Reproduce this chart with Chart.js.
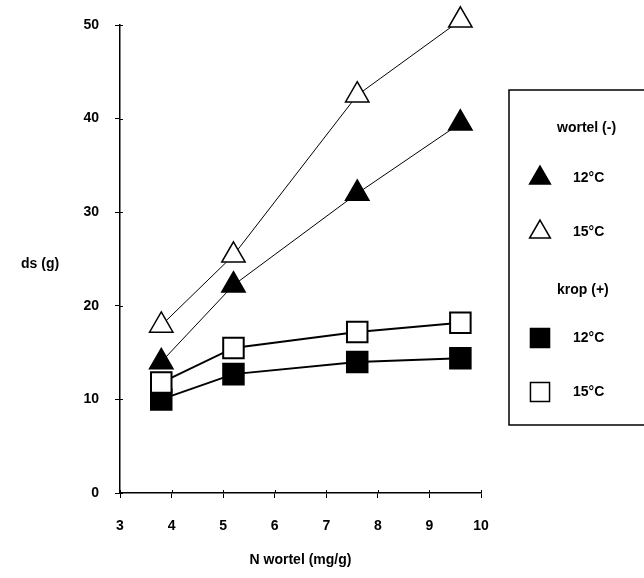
<!DOCTYPE html>
<html>
<head>
<meta charset="utf-8">
<script src="https://cdn.jsdelivr.net/npm/chart.js@4.4.1/dist/chart.umd.min.js"></script>
<style>
  html, body { margin: 0; padding: 0; background: #fff; }
  #wrap { position: relative; width: 644px; height: 578px; }
</style>
</head>
<body>
<div id="wrap"><canvas id="chart" width="644" height="578"></canvas></div>
<script>
// N in root (mg/g) and dry matter (g)
const nWortel = [3.8, 5.2, 7.6, 9.6];
const wortel12 = [14, 22.2, 32, 39.5];
const wortel15 = [17.9, 25.4, 42.5, 50.5];
const krop12 = [10, 12.7, 14, 14.4];
const krop15 = [11.8, 15.5, 17.2, 18.2];

const xTicks = [3, 4, 5, 6, 7, 8, 9, 10];
const yTicks = [0, 10, 20, 30, 40, 50];

const FONT = '"Liberation Sans", Arial, sans-serif';

function toPoints(ys) {
    return nWortel.map((x, i) => ({ x: x, y: ys[i] }));
}

// legend box, horizontal y title and the inner half of the tick marks
const extras = {
    id: 'extras',
    afterDraw(chart) {
        const ctx = chart.ctx;
        const xs = chart.scales.x, ys = chart.scales.y;
        const area = chart.chartArea;
        ctx.save();
        ctx.strokeStyle = '#000';
        ctx.lineWidth = 1;
        ctx.beginPath();
        xTicks.forEach(v => {
            const px = Math.round(xs.getPixelForValue(v)) + 0.5;
            ctx.moveTo(px, area.bottom);
            ctx.lineTo(px, area.bottom - 3);
        });
        yTicks.forEach(v => {
            const py = Math.round(ys.getPixelForValue(v)) + 0.5;
            ctx.moveTo(area.left, py);
            ctx.lineTo(area.left + 3, py);
        });
        ctx.stroke();

        ctx.fillStyle = '#000';
        ctx.font = 'bold 14px ' + FONT;
        ctx.textAlign = 'left';
        ctx.textBaseline = 'middle';
        ctx.fillText('ds (g)', 21, 264);

        // legend frame (runs off the right edge)
        ctx.lineWidth = 1.5;
        ctx.beginPath();
        ctx.moveTo(660, 90);
        ctx.lineTo(509, 90);
        ctx.lineTo(509, 425);
        ctx.lineTo(660, 425);
        ctx.stroke();

        const items = [
            { text: 'wortel (-)', y: 128, head: true },
            { text: '12°C', y: 178, style: 'triangle', fill: '#000', r: 12 },
            { text: '15°C', y: 232, style: 'triangle', fill: '#fff', r: 12 },
            { text: 'krop (+)', y: 290, head: true },
            { text: '12°C', y: 338, style: 'rect', fill: '#000', r: 13.5 },
            { text: '15°C', y: 392, style: 'rect', fill: '#fff', r: 13.5 }
        ];
        items.forEach(it => {
            ctx.fillStyle = '#000';
            if (it.head) {
                ctx.fillText(it.text, 557, it.y);
                return;
            }
            ctx.fillText(it.text, 573, it.y);
            ctx.fillStyle = it.fill;
            ctx.strokeStyle = '#000';
            ctx.lineWidth = 1.5;
            Chart.helpers.drawPoint(ctx, {
                pointStyle: it.style, radius: it.r, rotation: 0, borderWidth: 1.5
            }, 540, it.y);
        });
        ctx.restore();
    }
};

new Chart(document.getElementById('chart'), {
    type: 'scatter',
    data: {
        datasets: [
            {
                label: 'krop 15°C',
                data: toPoints(krop15),
                showLine: true,
                borderColor: '#000',
                borderWidth: 2,
                pointStyle: 'rect',
                pointRadius: 14.5,
                pointBackgroundColor: '#fff',
                pointBorderColor: '#000',
                pointBorderWidth: 2,
                clip: false,
                order: 0
            },
            {
                label: 'wortel 12°C',
                data: toPoints(wortel12),
                showLine: true,
                borderColor: '#000',
                borderWidth: 1,
                pointStyle: 'triangle',
                pointRadius: 13.5,
                pointBackgroundColor: '#000',
                pointBorderColor: '#000',
                pointBorderWidth: 1.5,
                clip: false,
                order: 1
            },
            {
                label: 'krop 12°C',
                data: toPoints(krop12),
                showLine: true,
                borderColor: '#000',
                borderWidth: 2,
                pointStyle: 'rect',
                pointRadius: 14.5,
                pointBackgroundColor: '#000',
                pointBorderColor: '#000',
                pointBorderWidth: 2,
                clip: false,
                order: 2
            },
            {
                label: 'wortel 15°C',
                data: toPoints(wortel15),
                showLine: true,
                borderColor: '#000',
                borderWidth: 1,
                pointStyle: 'triangle',
                pointRadius: 13.5,
                pointBackgroundColor: '#fff',
                pointBorderColor: '#000',
                pointBorderWidth: 1.5,
                clip: false,
                order: 3
            }
        ]
    },
    options: {
        responsive: false,
        animation: false,
        events: [],
        layout: { padding: { top: 25, right: 163, left: 0, bottom: 0 } },
        plugins: {
            legend: { display: false },
            tooltip: { enabled: false }
        },
        scales: {
            x: {
                type: 'linear',
                min: xTicks[0],
                max: xTicks[xTicks.length - 1],
                afterFit: scale => { scale.height = 85; },
                afterBuildTicks: scale => { scale.ticks = xTicks.map(v => ({ value: v })); },
                grid: { drawOnChartArea: false, color: '#000', tickLength: 5, lineWidth: 1 },
                border: { color: '#000', width: 1.5 },
                ticks: { color: '#000', padding: 20, font: { family: FONT, size: 14, weight: 'bold' } },
                title: {
                    display: true,
                    text: 'N wortel (mg/g)',
                    color: '#000',
                    font: { family: FONT, size: 14, weight: 'bold' },
                    padding: { top: 0, bottom: 9 }
                }
            },
            y: {
                type: 'linear',
                min: yTicks[0],
                max: yTicks[yTicks.length - 1],
                afterFit: scale => { scale.width = 120; },
                afterBuildTicks: scale => { scale.ticks = yTicks.map(v => ({ value: v })); },
                grid: { drawOnChartArea: false, color: '#000', tickLength: 5, lineWidth: 1 },
                border: { color: '#000', width: 1.5 },
                ticks: { color: '#000', padding: 16, font: { family: FONT, size: 14, weight: 'bold' } }
            }
        }
    },
    plugins: [extras]
});
</script>
</body>
</html>
